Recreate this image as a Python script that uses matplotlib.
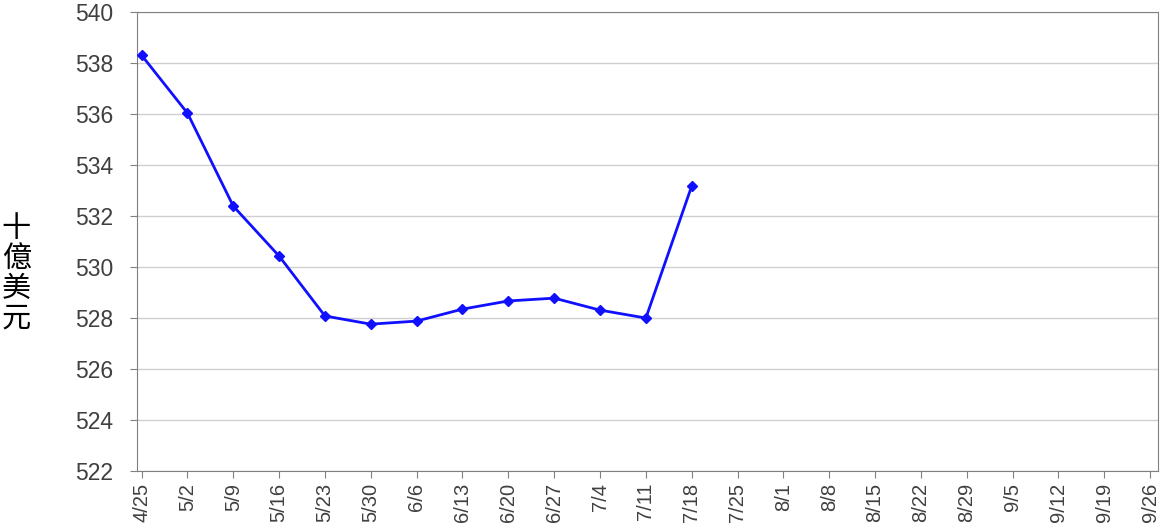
import matplotlib
matplotlib.use("Agg")
import matplotlib.pyplot as plt

# weekly dates and values (billion USD)
dates = ["4/25", "5/2", "5/9", "5/16", "5/23", "5/30", "6/6", "6/13", "6/20", "6/27",
         "7/4", "7/11", "7/18", "7/25", "8/1", "8/8", "8/15", "8/22", "8/29", "9/5",
         "9/12", "9/19", "9/26"]
values = [538.31, 536.04, 532.39, 530.43, 528.08, 527.76, 527.88, 528.35, 528.67,
          528.78, 528.31, 528.00, 533.18]
y_ticks = list(range(522, 541, 2))

plt.rcParams['font.family'] = ['Liberation Sans', 'DejaVu Sans']

fig = plt.figure(figsize=(11.66, 5.28), dpi=100)
ax = fig.add_axes([0.1175, 0.108, 0.8756, 0.869])

x = list(range(len(values)))
ax.plot(x, values, color="#1010ff", lw=2, marker="D", ms=5, zorder=3)

ax.set_xlim(-0.1, len(dates) - 1 + 0.17)
ax.set_xticks(range(len(dates)))
ax.set_xticklabels(dates, rotation=90, fontsize=14.5, color="#404040")
ax.set_ylim(522, 540)
ax.set_yticks(y_ticks)
ax.set_yticklabels([str(v) for v in y_ticks], fontsize=16.5, color="#404040")

ax.grid(axis="y", color="#d0d0d0", lw=1)
ax.set_axisbelow(True)
for s in ax.spines.values():
    s.set_color("#808080")
ax.tick_params(color="#808080", length=5)
ax.tick_params(axis="y", pad=12)

fig.text(0.014, 0.481, "十\n億\n美\n元", fontsize=21, va="center", ha="center",
         linespacing=1.0, family=['Noto Sans CJK TC', 'DejaVu Sans'])

fig.savefig("out.png", dpi=100)
